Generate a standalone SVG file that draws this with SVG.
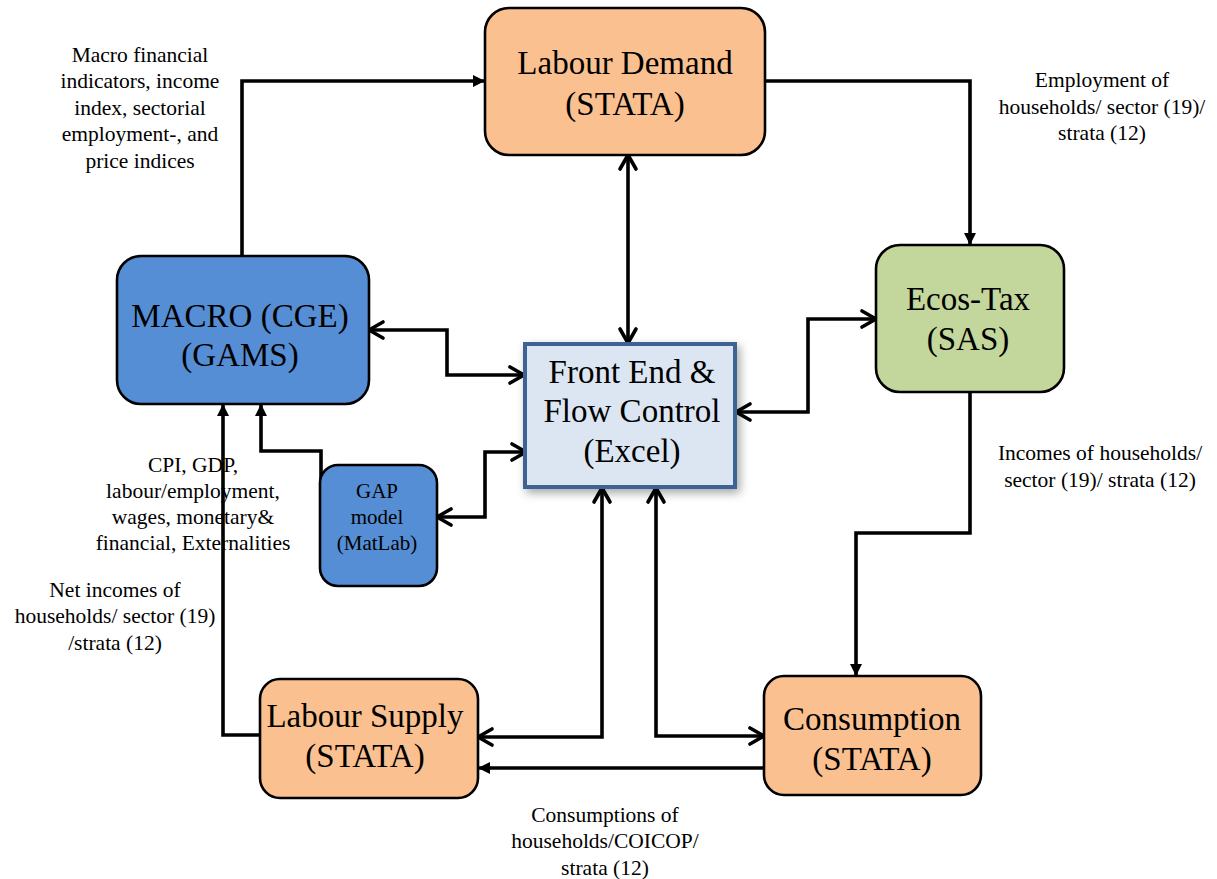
<svg xmlns="http://www.w3.org/2000/svg" width="1217" height="879" viewBox="0 0 1217 879">
<style>
.box{stroke:#000;stroke-width:2.6}
.orange{fill:#FAC090}
.blue{fill:#558ED5}
.green{fill:#C3D69B}
.t{font-family:"Liberation Serif","Times New Roman",serif;fill:#000;text-anchor:middle}
.big{font-size:33px}
.mid{font-size:21px}
.lab{font-size:21.5px}
.c{fill:none;stroke:#000;stroke-width:3.6}
.one{marker-end:url(#fa)}
.two{marker-start:url(#oa);marker-end:url(#oa)}
</style>
<defs>
<marker id="fa" markerUnits="userSpaceOnUse" markerWidth="14" markerHeight="14" viewBox="0 0 14 14" refX="12" refY="7" orient="auto">
<path d="M0,1 L12,7 L0,13 Z" fill="#000"/>
</marker>
<marker id="oa" markerUnits="userSpaceOnUse" markerWidth="20" markerHeight="22" viewBox="0 0 20 22" refX="17" refY="11" orient="auto-start-reverse">
<path d="M3,3 L17,11 L3,19" fill="none" stroke="#000" stroke-width="3.6" stroke-linecap="round" stroke-linejoin="round"/>
</marker>
<filter id="sh" x="-20%" y="-20%" width="140%" height="140%">
<feDropShadow dx="3" dy="4" stdDeviation="5" flood-color="#000" flood-opacity="0.35"/>
</filter>
</defs>

<g id="connectors">
<path class="c one" d="M242,256 V81 H485"/>
<path class="c one" d="M765,81 H970 V245"/>
<path class="c two" d="M628,155 V343"/>
<path class="c two" d="M369,330 H447 V375 H524"/>
<path class="c two" d="M437,517 H485 V452 H526"/>
<path class="c one" d="M321,497 V451 H261 V404"/>
<path class="c one" d="M260,735 H223 V404"/>
<path class="c two" d="M602,488 V737 H478"/>
<path class="c two" d="M656,488 V736 H764"/>
<path class="c one" d="M764,768 H478"/>
<path class="c one" d="M970,392 V533 H856 V676"/>
<path class="c two" d="M736,412 H808 V319 H876"/>
</g>

<g id="labour-demand">
<rect class="box orange" x="485" y="8" width="280" height="147" rx="24"/>
<text class="t big" x="625" y="74">Labour Demand</text>
<text class="t big" x="625" y="115">(STATA)</text>
</g>

<g id="macro">
<rect class="box blue" x="117" y="256" width="252" height="148" rx="24"/>
<text class="t big" x="240" y="327">MACRO (CGE)</text>
<text class="t big" x="240" y="366">(GAMS)</text>
</g>

<g id="front-end">
<rect x="525" y="344" width="210" height="143" fill="#DCE6F2" stroke="#3C6394" stroke-width="4" filter="url(#sh)"/>
<text class="t big" x="632" y="383">Front End &amp;</text>
<text class="t big" x="632" y="422">Flow Control</text>
<text class="t big" x="632" y="462">(Excel)</text>
</g>

<g id="ecos-tax">
<rect class="box green" x="876" y="245" width="188" height="147" rx="24"/>
<text class="t big" x="968" y="310">Ecos-Tax</text>
<text class="t big" x="968" y="350">(SAS)</text>
</g>

<g id="gap-model">
<rect class="box blue" x="320" y="465" width="117" height="121" rx="18"/>
<text class="t mid" x="377" y="498">GAP</text>
<text class="t mid" x="377" y="524">model</text>
<text class="t mid" x="377" y="550">(MatLab)</text>
</g>

<g id="labour-supply">
<rect class="box orange" x="260" y="679" width="218" height="119" rx="20"/>
<text class="t big" x="365" y="727">Labour Supply</text>
<text class="t big" x="365" y="767">(STATA)</text>
</g>

<g id="consumption">
<rect class="box orange" x="764" y="676" width="217" height="119" rx="20"/>
<text class="t big" x="872" y="730">Consumption</text>
<text class="t big" x="872" y="770">(STATA)</text>
</g>

<g id="labels">
<text class="t lab" x="140" y="62">Macro financial</text>
<text class="t lab" x="140" y="88">indicators, income</text>
<text class="t lab" x="140" y="115">index, sectorial</text>
<text class="t lab" x="140" y="141">employment-, and</text>
<text class="t lab" x="140" y="168">price indices</text>

<text class="t lab" x="1102" y="87">Employment of</text>
<text class="t lab" x="1102" y="114">households/ sector (19)/</text>
<text class="t lab" x="1102" y="140">strata (12)</text>

<text class="t lab" x="1100" y="460">Incomes of households/</text>
<text class="t lab" x="1100" y="487">sector (19)/ strata (12)</text>

<text class="t lab" x="193" y="472">CPI, GDP,</text>
<text class="t lab" x="193" y="498">labour/employment,</text>
<text class="t lab" x="193" y="524">wages, monetary&amp;</text>
<text class="t lab" x="193" y="550">financial, Externalities</text>

<text class="t lab" x="115" y="597">Net incomes of</text>
<text class="t lab" x="115" y="623">households/ sector (19)</text>
<text class="t lab" x="115" y="650">/strata (12)</text>

<text class="t lab" x="605" y="822">Consumptions of</text>
<text class="t lab" x="605" y="848">households/COICOP/</text>
<text class="t lab" x="605" y="875">strata (12)</text>
</g>
</svg>
